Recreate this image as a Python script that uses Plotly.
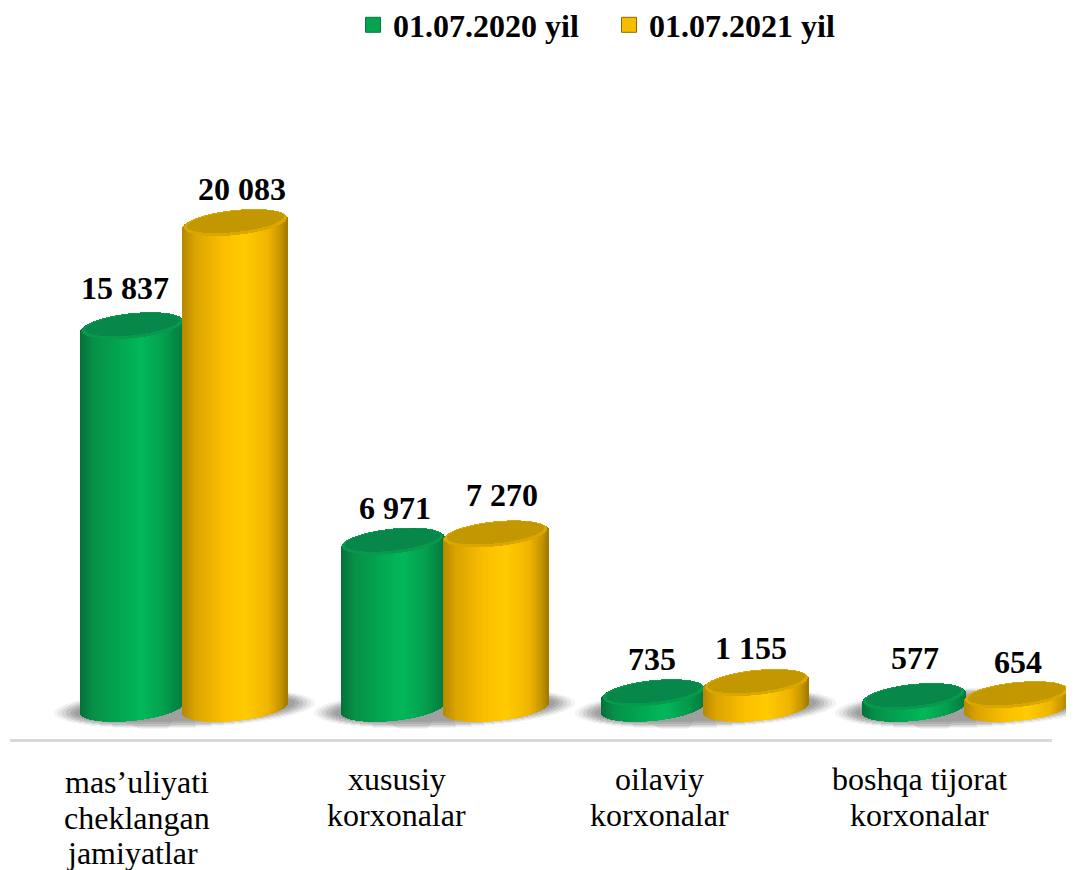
import numpy as np
import plotly.graph_objects as go

categories = [["mas’uliyati", "cheklangan", "jamiyatlar"], ["xususiy", "korxonalar"], ["oilaviy", "korxonalar"], ["boshqa tijorat", "korxonalar"]]
series_names = ["01.07.2020 yil", "01.07.2021 yil"]
values_2020 = [15837, 6971, 735, 577]
values_2021 = [20083, 7270, 1155, 654]
labels_2020 = ["15 837", "6 971", "735", "577"]
labels_2021 = ["20 083", "7 270", "1 155", "654"]

# the page has an 8px body margin, so the figure is 8px smaller on each side
W, H = 1066, 862
ML, MR, MT, MB = 2, 22, 52, 131
BASE_Y = 704           # figure pixel of value 0 on the top faces
PX = 0.0243            # plot pixels per value unit
PLOT_H = H - MT - MB
Y_LOW = -((H - MB) - BASE_Y) / PX
Y_HIGH = Y_LOW + PLOT_H / PX
UNIT = (W - ML - MR) / 4  # pixels per category
FONT = "Liberation Serif"


def d(px):
    return px / PX


def channel(u, pts, c):
    xs = [p[0] for p in pts]
    return np.interp(u, xs, [int(p[1][c * 2 + 1:c * 2 + 3], 16) for p in pts])


def rgb(u, pts):
    r, g, b = (channel(u, pts, c) for c in range(3))
    return [f"rgb({int(a)},{int(e)},{int(f)})" for a, e, f in zip(r, g, b)]


def ellipse_strips(cx, half_px, center, b_px, tilt_px=5.0):
    """Vertical 1px strips of a sheared ellipse centred on (cx, center)."""
    n = max(int(2 * half_px), 4)
    u = (np.arange(n) + 0.5) / n * 2 - 1
    x = cx + u * half_px / UNIT
    s = np.sqrt(1 - u ** 2)
    low = center + d(tilt_px) * u - d(b_px) * s
    height = 2 * d(b_px) * s
    return u, x, low, height, np.full(n, 2 * half_px / n * 1.35 / UNIT)


fig = go.Figure()


def add_strips(x, base, height, width, color):
    fig.add_trace(go.Bar(x=x, y=height, base=base, width=width, xaxis="x2", yaxis="y",
                         marker=dict(color=color, line=dict(width=0)),
                         hoverinfo="skip", showlegend=False))


# shadows under each pair
shadow_levels = [(130, 20, "#f4f4f4"), (126, 19, "#e6e6e6"), (122, 18, "#d4d4d4"),
                 (118, 17, "#c0c0c0"), (114, 15, "#aeaeae"), (110, 13, "#a0a0a0")]
for half, b, col in shadow_levels:
    xs, bs, hs, ws = [], [], [], []
    for i in range(len(categories)):
        u, x, low, h, w = ellipse_strips(i + 44 / UNIT, half, d(4), b, tilt_px=5)
        xs.append(x); bs.append(low); hs.append(h); ws.append(w)
    add_strips(np.concatenate(xs), np.concatenate(bs), np.concatenate(hs), np.concatenate(ws), col)

styles = [
    dict(values=values_2020, off=-51, half=51.5,
         body=[(-1, "#05703a"), (-0.75, "#079048"), (-0.2, "#02a852"), (0.2, "#03b85a"), (0.65, "#049e4e"), (1, "#067a3e")],
         mid="#089a4c", top="#07874a", swatch="#05a34f", edge="#067a3e"),
    dict(values=values_2021, off=52, half=52.5,
         body=[(-1, "#b58800"), (-0.75, "#dba500"), (-0.2, "#fcbf00"), (0.2, "#ffcc00"), (0.65, "#f0b400"), (0.88, "#c59500"), (1, "#9f7a00")],
         mid="#d8a800", top="#c39700", swatch="#f7bc00", edge="#8a6a00"),
]

for st in styles:
    bx, bb, bh, bw, bc = [], [], [], [], []
    for i, v in enumerate(st["values"]):
        u, x, low, h, w = ellipse_strips(i + (43 + st["off"]) / UNIT, st["half"], v, 14)
        # body runs from the lower edge of the floor ellipse to the centre line of the top ellipse
        floor = d(4) + d(5) * u - d(13) * np.sqrt(1 - u ** 2)
        top_line = v + d(5) * u
        bx.append(x); bb.append(floor); bh.append(top_line - floor); bw.append(w)
        bc += rgb(u, st["body"])
    add_strips(np.concatenate(bx), np.concatenate(bb), np.concatenate(bh), np.concatenate(bw), bc)

    # top face: lit rim, bevel, dark face
    xs, bs, hs, ws, cs = [], [], [], [], []
    for i, v in enumerate(st["values"]):
        u, x, low, h, w = ellipse_strips(i + (43 + st["off"]) / UNIT, st["half"], v, 14)
        xs.append(x); bs.append(low); hs.append(h); ws.append(w)
        cs += rgb(u, st["body"])
    add_strips(np.concatenate(xs), np.concatenate(bs), np.concatenate(hs), np.concatenate(ws), cs)
    for shrink, b, lift, col in [(1.5, 12.5, 1.5, st["mid"]), (4.5, 10.5, 2.5, st["top"])]:
        xs, bs, hs, ws = [], [], [], []
        for i, v in enumerate(st["values"]):
            u, x, low, h, w = ellipse_strips(i + (43 + st["off"]) / UNIT, st["half"] - shrink, v + d(lift), b)
            xs.append(x); bs.append(low); hs.append(h); ws.append(w)
        add_strips(np.concatenate(xs), np.concatenate(bs), np.concatenate(hs), np.concatenate(ws), col)

# legend entries (also keep the category axis alive)
for name, st in zip(series_names, styles):
    fig.add_trace(go.Scatter(x=[None], y=[None], name=name, mode="markers", xaxis="x", yaxis="y",
                             marker=dict(symbol="square", size=15, color=st["swatch"],
                                         line=dict(width=1, color=st["edge"]))))

# value labels
nudges_2020 = [(-7, 39), (2, 35), (-1, 35), (1, 40)]
nudges_2021 = [(7, 35), (6, 40), (-5, 36), (1, 34)]
for vals, labs, nudges, st in [(values_2020, labels_2020, nudges_2020, styles[0]),
                               (values_2021, labels_2021, nudges_2021, styles[1])]:
    for i, (v, lab, (dx, dy)) in enumerate(zip(vals, labs, nudges)):
        fig.add_annotation(x=i + (43 + st["off"]) / UNIT, y=v, text=lab, showarrow=False,
                           xref="x", yref="y", xshift=dx, yshift=dy, xanchor="center", yanchor="middle",
                           font=dict(family=FONT, size=32, color="#000000", weight="bold"))

# category labels, line by line (the reference's line spacing is tighter than a tick label's)
label_nudges = [[-3, -3, -8], [-4, -4], [-2, -2], [-2, -2]]
label_tops = [782, 779, 779, 779]
for i, lines in enumerate(categories):
    for k, line in enumerate(lines):
        fig.add_annotation(x=i, y=0, text=line, showarrow=False, xref="x", yref="y",
                           xshift=label_nudges[i][k], yshift=-(label_tops[i] - 8 - BASE_Y + 35.5 * k),
                           xanchor="center", yanchor="middle",
                           font=dict(family=FONT, size=32, color="#000000"))

fig.update_layout(
    width=W, height=H, autosize=False,
    margin=dict(l=0, r=0, t=MT, b=MB, autoexpand=False),
    paper_bgcolor="#ffffff", plot_bgcolor="#ffffff",
    barmode="overlay", bargap=0,
    font=dict(family=FONT, color="#000000"),
    showlegend=True,
    legend=dict(orientation="h", xref="container", yref="container", x=345 / W, y=1 - 17 / H,
                xanchor="left", yanchor="middle", entrywidth=211, entrywidthmode="pixels",
                bgcolor="rgba(0,0,0,0)", itemclick=False, itemdoubleclick=False,
                font=dict(family=FONT, size=32, color="#000000", weight="bold")),
    xaxis=dict(domain=[ML / W, 1 - MR / W], range=[-0.5, 3.5], tickmode="array", tickvals=list(range(4)),
               showticklabels=False, ticks="", showgrid=False, zeroline=False,
               showline=True, linecolor="#d9d9d9", linewidth=3, automargin=False),
    xaxis2=dict(domain=[0, 1], range=[-0.5 - ML / UNIT, 3.5 + MR / UNIT], anchor="y", visible=False, automargin=False),
    yaxis=dict(range=[Y_LOW, Y_HIGH], visible=False, automargin=False),
)

fig.write_html("out.html")
